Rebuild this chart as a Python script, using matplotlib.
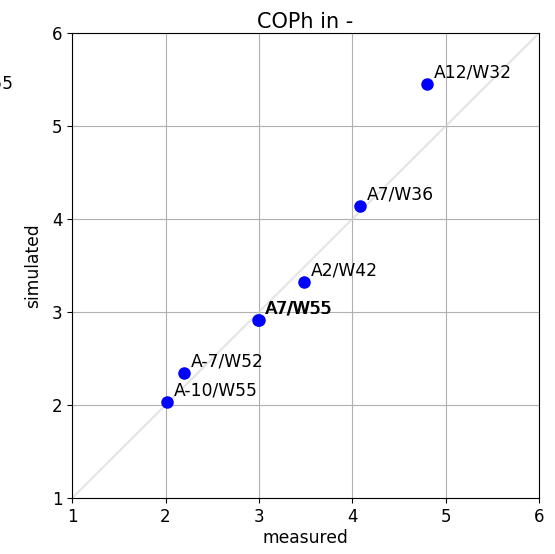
import matplotlib
matplotlib.use("Agg")
import matplotlib.pyplot as plt

# Heat-pump operating points: air / water temperatures
labels = ["A12/W32", "A7/W36", "A2/W42", "A7/W55", "A7/W55", "A-7/W52", "A-10/W55"]
measured = [4.80, 4.08, 3.48, 2.99, 3.00, 2.20, 2.02]
simulated = [5.45, 4.14, 3.32, 2.91, 2.91, 2.34, 2.03]

lim = [1, 6]

fig = plt.figure(figsize=(5.55, 5.54), dpi=100)
ax = fig.add_axes([0.130, 0.101, 0.841, 0.839])

ax.plot(lim, lim, color="lightgray", alpha=0.6, zorder=1)
ax.scatter(measured, simulated, color="blue", s=64, zorder=3)
for lab, x, y in zip(labels, measured, simulated):
    ax.annotate(lab, (x, y), xytext=(5, 5), textcoords="offset points", fontsize=12.3)

ax.set_xlim(lim)
ax.set_ylim(lim)
ax.set_xticks(range(1, 7))
ax.set_yticks(range(1, 7))
ax.tick_params(labelsize=12)
ax.grid(True)
ax.set_axisbelow(True)
ax.set_xlabel("measured", fontsize=12.3, labelpad=2)
ax.set_ylabel("simulated", fontsize=12.3, labelpad=7)
ax.set_title("COPh in -", fontsize=15, pad=4)

fig.text(0.025, 0.85, "A7/W55", ha="right", va="center", fontsize=12.3)

fig.savefig("out.png", dpi=100)
